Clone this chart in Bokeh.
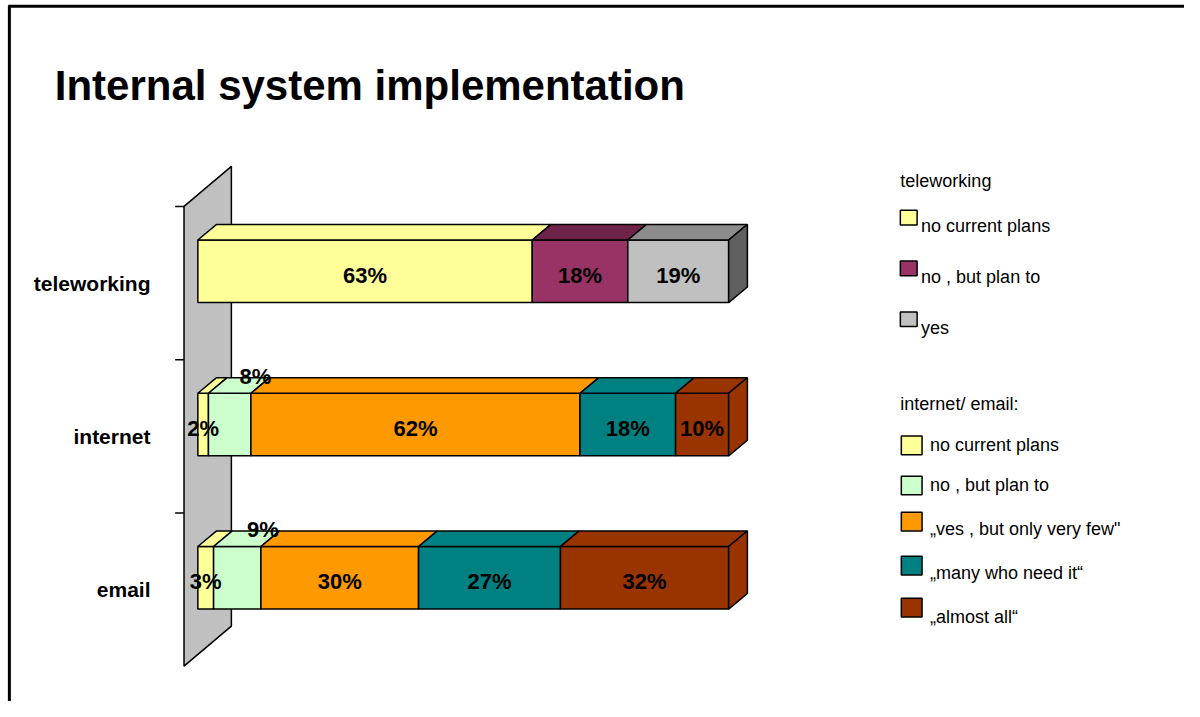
import numpy as np
from bokeh.plotting import figure
from bokeh.models import Range1d
from bokeh.core.properties import value
from bokeh.embed import file_html
from bokeh.resources import INLINE

# ---------------- data ----------------
categories = ["email", "internet", "teleworking"]
email_values = [3, 9, 30, 27, 32]
internet_values = [2, 8, 62, 18, 10]
teleworking_values = [63, 18, 19]
ie_series = ["no current plans", "no ,  but   plan to", "\u201eves ,  but only very few\"",
             "\u201emany    who   need   it\u201c", "\u201ealmost    all\u201c"]
tele_series = ["no current plans", "no ,  but   plan to", "yes"]
title_text = "Internal system implementation"
tele_legend_title = "teleworking"
ie_legend_title = "internet/ email:"

# ---------------- style ----------------
ie_front = ["#FFFF99", "#CCFFCC", "#FF9900", "#008080", "#993300"]
ie_top = ["#FFFF99", "#CCFFCC", "#FF9900", "#008080", "#993300"]
ie_side = "#993300"
tele_front = ["#FFFF99", "#993366", "#C0C0C0"]
tele_top = ["#FFFF99", "#6E2449", "#8C8C8C"]
tele_side = "#5F5F5F"
label_above = [False, True, False, False, False]

FONT = "Liberation Sans"
W, H = 1184, 701
REF_W, REF_H = 1200, 717
X0_PX, X100_PX = 200, 738
S = (X100_PX - X0_PX) / 100.0
CAT_PX = 156.75
Y0_PX = 590.5

x_start = -X0_PX / S
x_end = (REF_W - X0_PX) / S
y_end = Y0_PX / CAT_PX
y_start = y_end - REF_H / CAT_PX


def px(x):
    return (x - X0_PX) / S


def py(y):
    return (Y0_PX - y) / CAT_PX


HALF = 32 / CAT_PX
DX = 19 / S
DY = 16 / CAT_PX
FRONT = -12 / CAT_PX
WALL_DEPTH_Y = 41 / CAT_PX

p = figure(width=W, height=H, output_backend="svg", toolbar_location=None,
           x_range=Range1d(x_start, x_end), y_range=Range1d(y_start, y_end),
           x_axis_location=None, y_axis_location=None, min_border=0)
p.xgrid.visible = False
p.ygrid.visible = False
p.outline_line_color = None
p.background_fill_color = "white"
p.border_fill_color = "white"

# slide border (left and top)
p.line(x=[px(9), px(9)], y=[py(5), py(717)], line_color="black", line_width=3)
p.line(x=[px(8), px(1200)], y=[py(6), py(6)], line_color="black", line_width=3)

# title
p.text(x=[px(55)], y=[py(87)], text=[title_text], text_font=value(FONT),
       text_font_style="bold", text_font_size="42px", text_baseline="alphabetic",
       text_align="left", text_color="black")

# wall
n_cat = len(categories)
wx0, wx1 = px(186), px(234)
wb, wt = -0.5 + FRONT, n_cat - 0.5 + FRONT
p.patch(x=[wx0, wx1, wx1, wx0], y=[wt, wt + WALL_DEPTH_Y, wb + WALL_DEPTH_Y, wb],
        fill_color="#C0C0C0", line_color="black", line_width=1.5)
for b in range(n_cat):
    yb = b + 0.5 + FRONT
    p.line(x=[px(177), wx0], y=[yb, yb], line_color="black", line_width=1.5)

rows = [(0, email_values, ie_front, ie_top, ie_side),
        (1, internet_values, ie_front, ie_top, ie_side),
        (2, teleworking_values, tele_front, tele_top, tele_side)]

LABEL_SIZE = "22px"
for k, vals, front, top, side in rows:
    total = float(sum(vals))
    pct = np.array(vals) * 100.0 / total
    rights = np.cumsum(pct)
    lefts = rights - pct
    n = len(vals)
    p.quad(left=lefts, right=rights, bottom=[k - HALF] * n, top=[k + HALF] * n,
           fill_color=front, line_color="black", line_width=1.5)
    xs = [[l, l + DX, r + DX, r] for l, r in zip(lefts, rights)]
    ys = [[k + HALF, k + HALF + DY, k + HALF + DY, k + HALF] for _ in range(n)]
    p.patches(xs=xs, ys=ys, fill_color=top, line_color="black", line_width=1.5)
    r = rights[-1]
    p.patch(x=[r, r + DX, r + DX, r], y=[k + HALF, k + HALF + DY, k - HALF + DY, k - HALF],
            fill_color=side, line_color="black", line_width=1.5)
    # labels
    for i, v in enumerate(vals):
        cx = (lefts[i] + rights[i]) / 2
        if n == 5 and label_above[i]:
            p.text(x=[cx + 26 / S], y=[k + HALF + DY + 1 / CAT_PX], text=[f"{v}%"],
                   text_font=value(FONT), text_font_style="bold", text_font_size=LABEL_SIZE,
                   text_align="center", text_baseline="alphabetic", text_color="black")
        else:
            p.text(x=[cx], y=[k - 4 / CAT_PX], text=[f"{v}%"],
                   text_font=value(FONT), text_font_style="bold", text_font_size=LABEL_SIZE,
                   text_align="center", text_baseline="middle", text_color="black")

# category labels
p.text(x=[px(152)] * n_cat, y=[k + FRONT for k in range(n_cat)], text=categories,
       text_font=value(FONT), text_font_style="bold", text_font_size="21px",
       text_align="right", text_baseline="middle", text_color="black")

# legend: teleworking
LEG_SIZE = "18px"
p.text(x=[px(912)], y=[py(185)], text=[tele_legend_title], text_font=value(FONT),
       text_font_size=LEG_SIZE, text_baseline="middle", text_align="left", text_color="black")
for i, (name, col) in enumerate(zip(tele_series, tele_front)):
    cy = 222 + 52 * i
    p.quad(left=[px(912)], right=[px(929)], top=[py(cy - 7.5)], bottom=[py(cy + 7.5)],
           fill_color=col, line_color="black", line_width=1.5)
    p.text(x=[px(933)], y=[py(cy + 9)], text=[name], text_font=value(FONT),
           text_font_size=LEG_SIZE, text_baseline="middle", text_align="left", text_color="black")

# legend: internet / email
p.text(x=[px(912)], y=[py(413)], text=[ie_legend_title], text_font=value(FONT),
       text_font_size=LEG_SIZE, text_baseline="middle", text_align="left", text_color="black")
box_c = [455, 496, 533, 578, 621]
text_c = [455, 496, 541, 586, 631]
for name, col, bc, tc in zip(ie_series, ie_front, box_c, text_c):
    p.quad(left=[px(913)], right=[px(934)], top=[py(bc - 9.5)], bottom=[py(bc + 9.5)],
           fill_color=col, line_color="black", line_width=1.5)
    p.text(x=[px(942)], y=[py(tc)], text=[name], text_font=value(FONT),
           text_font_size=LEG_SIZE, text_baseline="middle", text_align="left", text_color="black")

open("out.html", "w").write(file_html(p, INLINE))
